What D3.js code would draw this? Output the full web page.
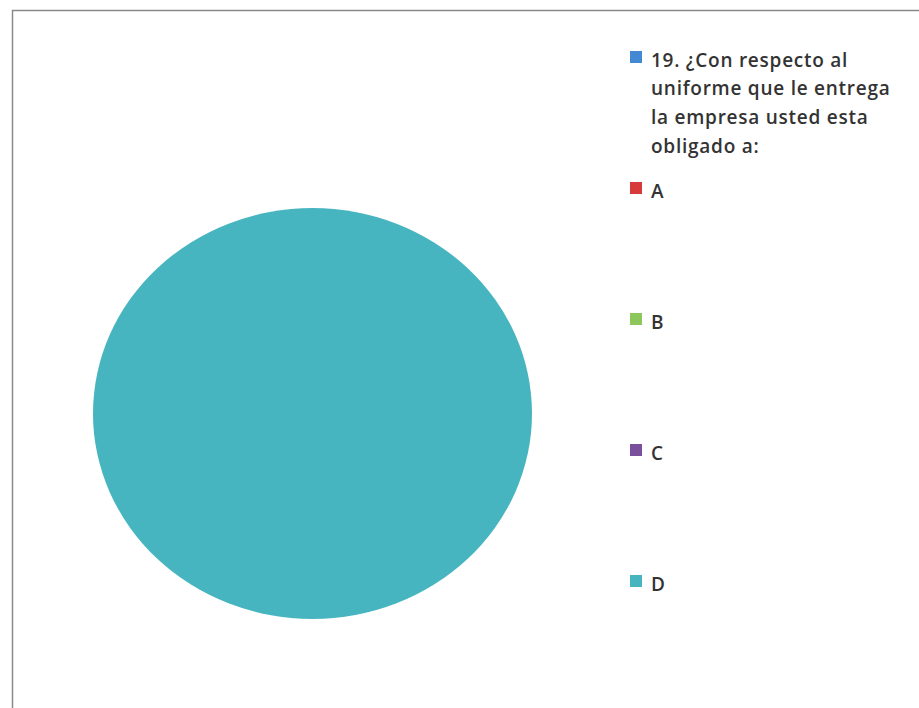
<!DOCTYPE html>
<html>
<head>
<meta charset="utf-8">
<script src="https://cdn.jsdelivr.net/npm/d3@7"></script>
<style>
  html, body { margin: 0; padding: 0; background: #ffffff; }
  svg { display: block; }
  text { font-family: "Open Sans", Lato, sans-serif; fill: #333333; font-weight: 600; }
</style>
</head>
<body>
<svg id="chart" width="919" height="708"></svg>
<script>
// Series name (first legend entry) and the answer categories
const seriesTitle = ["19. ¿Con respecto al", "uniforme que le entrega", "la empresa usted esta", "obligado a:"];
const categories = ["19. ¿Con respecto al uniforme que le entrega la empresa usted esta obligado a:", "A", "B", "C", "D"];
const values = [0, 0, 0, 0, 100];
const colors = ["#4388d2", "#d63a3a", "#8dc75b", "#7a4f9c", "#47b5c0"];

const svg = d3.select("#chart");

// Chart frame
svg.append("rect")
  .attr("x", 12.5).attr("y", 10.5)
  .attr("width", 930).attr("height", 720)
  .attr("fill", "#ffffff")
  .attr("stroke", "#8a8a8a")
  .attr("stroke-width", 1.5);

// Pie (drawn as a slightly flattened circle)
const cx = 312.5, cy = 413.5, rx = 219.5, ry = 205.5;
const pie = d3.pie().sort(null).value(d => d)(values);
const arc = d3.arc().innerRadius(0).outerRadius(rx);
svg.append("g")
  .attr("transform", `translate(${cx},${cy}) scale(1,${ry / rx})`)
  .selectAll("path")
  .data(pie)
  .join("path")
  .attr("d", arc)
  .attr("fill", (d, i) => colors[i]);

// Legend
const color = d3.scaleOrdinal().domain(categories).range(colors);
const legendY = d3.scalePoint().domain(categories).range([57, 581]);
const legend = svg.append("g");
const items = legend.selectAll("g")
  .data(categories)
  .join("g")
  .attr("transform", d => `translate(630,${legendY(d)})`);

items.append("rect")
  .attr("x", 0).attr("y", -6)
  .attr("width", 12).attr("height", 12)
  .attr("fill", d => color(d));

items.each(function (d, i) {
  const g = d3.select(this);
  const lines = i === 0 ? seriesTitle : [d];
  g.append("text")
    .attr("x", 21).attr("y", 9.5)
    .style("font-size", "19px")
    .style("letter-spacing", "0.75px")
    .selectAll("tspan")
    .data(lines)
    .join("tspan")
    .attr("x", 21)
    .attr("dy", (l, j) => j === 0 ? 0 : 28.7)
    .text(l => l);
});
</script>
</body>
</html>
